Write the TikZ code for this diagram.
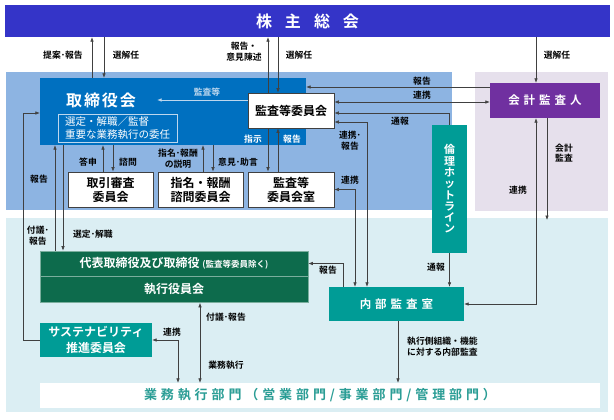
\documentclass[tikz,border=0pt]{standalone}
\usepackage{fontspec}
\setmainfont{Noto Sans CJK JP}[BoldFont={* Bold}]
\usetikzlibrary{arrows.meta}
\definecolor{shc}{HTML}{3434C8}
\definecolor{bluebg}{HTML}{8DB4E2}
\definecolor{boardc}{HTML}{0070C0}
\definecolor{lavc}{HTML}{E6E0EC}
\definecolor{cyanbg}{HTML}{DBEEF3}
\definecolor{purp}{HTML}{7030A0}
\definecolor{tealc}{HTML}{009C96}
\definecolor{greenc}{HTML}{0D6B4C}
\definecolor{linec}{HTML}{404040}
\definecolor{bizt}{HTML}{2A9D95}
\definecolor{palec}{HTML}{BDD7EE}
\begin{document}
\begin{tikzpicture}[x=1pt,y=-1pt,
  lbl/.style={font=\bfseries\fontsize{8.8}{10.8}\selectfont, align=center, inner sep=0pt, text=black},
  wbox/.style={draw=linec, line width=0.7pt, fill=white, inner sep=0pt, align=center, font=\bfseries\fontsize{12}{14}\selectfont},
  cbox/.style={fill=#1, inner sep=0pt, align=center, text=white, font=\bfseries\fontsize{12}{16}\selectfont},
  conn/.style={draw=linec, line width=0.6pt},
  arr/.style={conn, -{Latex[length=4.5pt,width=3.5pt]}},
  darr/.style={conn, {Latex[length=4.5pt,width=3.5pt]}-{Latex[length=4.5pt,width=3.5pt]}},
]
\useasboundingbox (0,0) rectangle (614,420);
\fill[white] (0,0) rectangle (614,420);
\fill[bluebg] (6,72) rectangle (452,210);
\fill[lavc] (475,72) rectangle (608,211);
\fill[cyanbg] (6,218) rectangle (608,412);

% column / row helper coordinates
\foreach \x in {23,55,63,92,103,104,113,178,200,203,213,268,278,343,355,367,398,536,547}
  \coordinate (c\x) at (\x,0);
\foreach \y in {87,100,102,113,122}
  \coordinate (r\y) at (0,\y);
\coordinate (e157) at (157,100);
\coordinate (e220) at (547,220);

% main nodes
\node[cbox=shc, minimum width=605pt, minimum height=32pt, font=\bfseries\fontsize{16}{16}\selectfont] (sh) at (307.5,21) {株\hspace{13pt}主\hspace{13pt}総\hspace{13pt}会};
\node[fill=boardc, minimum width=266pt, minimum height=67pt, inner sep=0pt] (board) at (173,111.5) {};
\node[text=white, inner sep=0pt, font=\bfseries\fontsize{16}{16}\selectfont] (boardt) at (101,100) {取\hspace{2pt}締\hspace{2pt}役\hspace{2pt}会};
\node[draw=palec, line width=0.6pt, minimum width=119pt, minimum height=28pt, inner sep=0pt, text=white, align=left, font=\fontsize{10.5}{12.5}\selectfont] (boardi) at (117.5,128) {選定・解職／監督\\重要な業務執行の委任};
\node[wbox, minimum width=86pt, minimum height=35pt] (ac) at (291,110.5) {監査等委員会};
\node[cbox=purp, minimum width=110pt, minimum height=35pt, font=\bfseries\fontsize{11.5}{12}\selectfont] (ca) at (545,100.5) {会\hspace{4pt}計\hspace{4pt}監\hspace{4pt}査\hspace{4pt}人};
\node[wbox, minimum width=85pt, minimum height=35pt] (trc) at (110.5,189.5) {取引審査\\委員会};
\node[wbox, minimum width=85pt, minimum height=35pt] (nrc) at (200.5,189.5) {指名・報酬\\諮問委員会};
\node[wbox, minimum width=86pt, minimum height=35pt] (aco) at (291,189.5) {監査等\\委員会室};
\node[cbox=tealc, minimum width=35pt, minimum height=128pt, font=\bfseries\fontsize{11}{11.3}\selectfont] (eth) at (449.5,189) {倫\\理\\ホ\\ッ\\ト\\ラ\\イ\\ン};
\node[cbox=greenc, draw=greenc!55!white, line width=0.6pt, minimum width=268pt, minimum height=25pt] (rep) at (174,263.5) {代表取締役及び取締役 {\fontsize{8.5}{9}\selectfont (監査等委員除く)}};
\node[cbox=greenc, draw=greenc!55!white, line width=0.6pt, minimum width=268pt, minimum height=26pt] (exe) at (174,289.5) {執行役員会};
\node[cbox=tealc, minimum width=135pt, minimum height=34pt, font=\bfseries\fontsize{11.5}{12}\selectfont] (ia) at (396.5,304) {内\hspace{4pt}部\hspace{4pt}監\hspace{4pt}査\hspace{4pt}室};
\node[cbox=tealc, minimum width=112pt, minimum height=34pt] (sus) at (96,340) {サステナビリティ\\推進委員会};
\node[fill=white, minimum width=560pt, minimum height=25pt, inner sep=0pt, text=bizt, font=\bfseries\fontsize{13}{13}\selectfont] (biz) at (320,395.5) {\addfontfeature{LetterSpace=30}業務執行部門（営業部門/事業部門/管理部門）};

% connectors
\draw[arr] (board.north -| c92) -- (sh.south -| c92);
\draw[arr] (sh.south -| c104) -- (board.north -| c104);
\draw[arr] (ac.north -| c268) -- (sh.south -| c268);
\draw[arr] (sh.south -| c278) -- (ac.north -| c278);
\draw[arr] (sh.south -| c536) -- (ca.north -| c536);
\draw[arr] (ca.west |- r87) -- (board.east |- r87);
\draw[darr] (ac.east |- r102) -- (ca.west |- r102);
\draw[draw=palec, line width=0.8pt, -{Latex[length=4.5pt,width=3.5pt]}] (ac.west |- r100) -- (e157);
\draw[arr] (ac.south -| c268) -- (aco.north -| c268);
\draw[arr] (aco.north -| c278) -- (ac.south -| c278);
\draw[arr] (eth.north) |- (ac.east |- r113);
\draw[darr] (ac.east |- r122) -| (ia.north -| c367);
\draw[darr] (aco.east) -| (ia.north -| c355);
\draw[arr] (trc.north -| c103) -- (board.south -| c103);
\draw[arr] (board.south -| c113) -- (trc.north -| c113);
\draw[arr] (nrc.north -| c203) -- (board.south -| c203);
\draw[arr] (board.south -| c213) -- (nrc.north -| c213);
\draw[arr] (sus.west) -| (c23 |- r113) -- (board.west |- r113);
\draw[arr] (rep.north -| c55) -- (board.south -| c55);
\draw[arr] (board.south -| c63) -- (rep.north -| c63);
\draw[arr] (ia.north -| c343) |- (rep.east);
\draw[arr] (eth.south) -- (ia.north -| eth.south);
\draw[darr] (ia.east) -| (ca.south -| c536);
\draw[arr] (ca.south -| c547) -- (e220);
\draw[darr] (sus.east) -| (biz.north -| c178);
\draw[darr] (exe.south -| c200) -- (biz.north -| c200);
\draw[arr] (ia.south -| c398) -- (biz.north -| c398);

% labels
\node[lbl] (l1) at (63,55) {提案･報告};
\node[lbl] (l2) at (126,55) {選解任};
\node[lbl] (l3) at (244,52) {報告・\\意見陳述};
\node[lbl] (l4) at (299,55) {選解任};
\node[lbl] (l5) at (557,55) {選解任};
\node[lbl] (l6) at (422,81) {報告};
\node[lbl] (l7) at (422,95) {連携};
\node[lbl, text=palec] (l8) at (207,92) {監査等};
\node[lbl] (l9) at (400,121) {通報};
\node[lbl] (l10) at (350,141) {連携･\\報告};
\node[lbl] (l11) at (350,180) {連携};
\node[lbl, text=white] (l12) at (253,139) {指示};
\node[lbl, text=white] (l13) at (292,139) {報告};
\node[lbl] (l14) at (88,162) {答申};
\node[lbl] (l15) at (128,162) {諮問};
\node[lbl] (l16) at (178,159) {指名･報酬\\の説明};
\node[lbl] (l17) at (238,162) {意見･助言};
\node[lbl] (l18) at (39,179) {報告};
\node[lbl] (l19) at (38,236) {付議･\\報告};
\node[lbl] (l20) at (93,234) {選定･解職};
\node[lbl] (l21) at (328,270) {報告};
\node[lbl] (l22) at (436,267) {通報};
\node[lbl] (l23) at (518,190) {連携};
\node[lbl] (l24) at (564,153) {会計\\監査};
\node[lbl] (l25) at (172,332) {連携};
\node[lbl] (l26) at (226,317) {付議･報告};
\node[lbl] (l27) at (226,365) {業務執行};
\node[lbl, align=left, anchor=west] (l28) at (407,347) {執行側組織・機能\\に対する内部監査};
\end{tikzpicture}
\end{document}
